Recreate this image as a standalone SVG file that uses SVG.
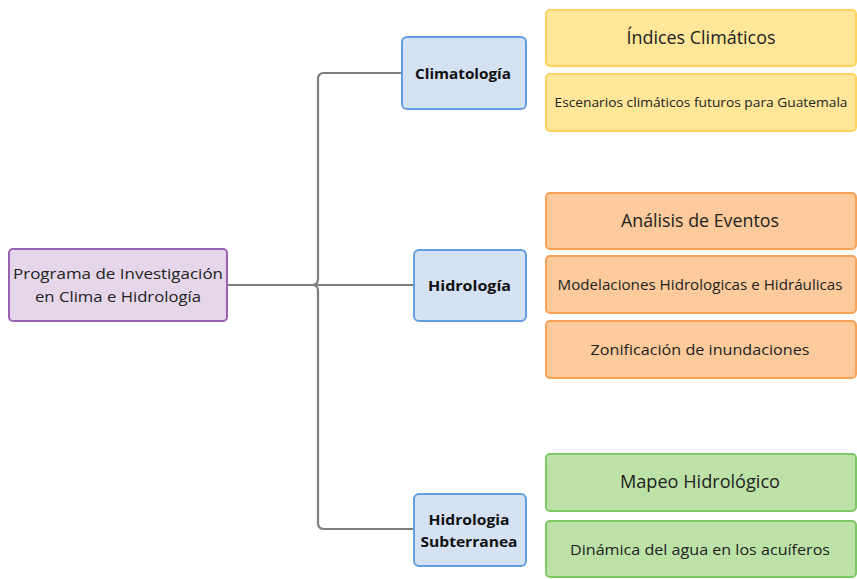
<svg xmlns="http://www.w3.org/2000/svg" width="857" height="579" viewBox="0 0 857 579">
<style>
.c{fill:none;stroke:#7f7f7f;stroke-width:2.2;stroke-linejoin:round}
.root{fill:#e5d6e9;stroke:#9b62b2;stroke-width:2}
.mid{fill:#d5e2f4;stroke:#629de0;stroke-width:2}
.y{fill:#ffe699;stroke:#fdd35c;stroke-width:2}
.o{fill:#fdcb9b;stroke:#f7a257;stroke-width:2}
.g{fill:#bde2a8;stroke:#7cc864;stroke-width:2}
text{font-family:"Open Sans","Noto Sans",sans-serif;fill:#222;text-anchor:middle}
.b{font-weight:bold;fill:#111}
</style>
<rect width="857" height="579" fill="#fff"/>
<g id="connectors">
<path class="c" d="M227,285 H312 Q318,285 318,279 V79 Q318,73 324,73 H402"/>
<path class="c" d="M227,285 H414"/>
<path class="c" d="M312,285 Q318,285 318,291 V523 Q318,529 324,529 H414"/>
</g>
<g id="root">
<rect class="root" x="9" y="249" width="218" height="72" rx="4"/>
<text x="118" y="279" font-size="15" textLength="210" lengthAdjust="spacingAndGlyphs">Programa de Investigación</text>
<text x="118" y="302" font-size="15" textLength="166" lengthAdjust="spacingAndGlyphs">en Clima e Hidrología</text>
</g>
<g id="climatologia">
<rect class="mid" x="402" y="37" width="124" height="72" rx="5"/>
<text class="b" x="463" y="79" font-size="14" textLength="96" lengthAdjust="spacingAndGlyphs">Climatología</text>
</g>
<g id="hidrologia">
<rect class="mid" x="414" y="250" width="112" height="71" rx="5"/>
<text class="b" x="469.5" y="291" font-size="15" textLength="83" lengthAdjust="spacingAndGlyphs">Hidrología</text>
</g>
<g id="subterranea">
<rect class="mid" x="414" y="494" width="112" height="72" rx="5"/>
<text class="b" x="469" y="525" font-size="14" textLength="81" lengthAdjust="spacingAndGlyphs">Hidrologia</text>
<text class="b" x="469" y="547" font-size="14" textLength="97" lengthAdjust="spacingAndGlyphs">Subterranea</text>
</g>
<g id="indices">
<rect class="y" x="546" y="10" width="310" height="56" rx="4"/>
<text x="701" y="44" font-size="18" textLength="149" lengthAdjust="spacingAndGlyphs">Índices Climáticos</text>
</g>
<g id="escenarios">
<rect class="y" x="546" y="74" width="310" height="57" rx="4"/>
<text x="701" y="107" font-size="13" textLength="293" lengthAdjust="spacingAndGlyphs">Escenarios climáticos futuros para Guatemala</text>
</g>
<g id="analisis">
<rect class="o" x="546" y="193" width="310" height="56" rx="4"/>
<text x="700" y="227" font-size="18" textLength="158" lengthAdjust="spacingAndGlyphs">Análisis de Eventos</text>
</g>
<g id="modelaciones">
<rect class="o" x="546" y="256" width="310" height="57" rx="4"/>
<text x="700" y="290" font-size="14" textLength="285" lengthAdjust="spacingAndGlyphs">Modelaciones Hidrologicas e Hidráulicas</text>
</g>
<g id="zonificacion">
<rect class="o" x="546" y="321" width="310" height="57" rx="4"/>
<text x="700" y="355" font-size="15" textLength="219" lengthAdjust="spacingAndGlyphs">Zonificación de inundaciones</text>
</g>
<g id="mapeo">
<rect class="g" x="546" y="454" width="310" height="57" rx="4"/>
<text x="700" y="488" font-size="18" textLength="160" lengthAdjust="spacingAndGlyphs">Mapeo Hidrológico</text>
</g>
<g id="dinamica">
<rect class="g" x="546" y="521" width="310" height="56" rx="4"/>
<text x="700" y="555" font-size="15" textLength="260" lengthAdjust="spacingAndGlyphs">Dinámica del agua en los acuíferos</text>
</g>
</svg>
